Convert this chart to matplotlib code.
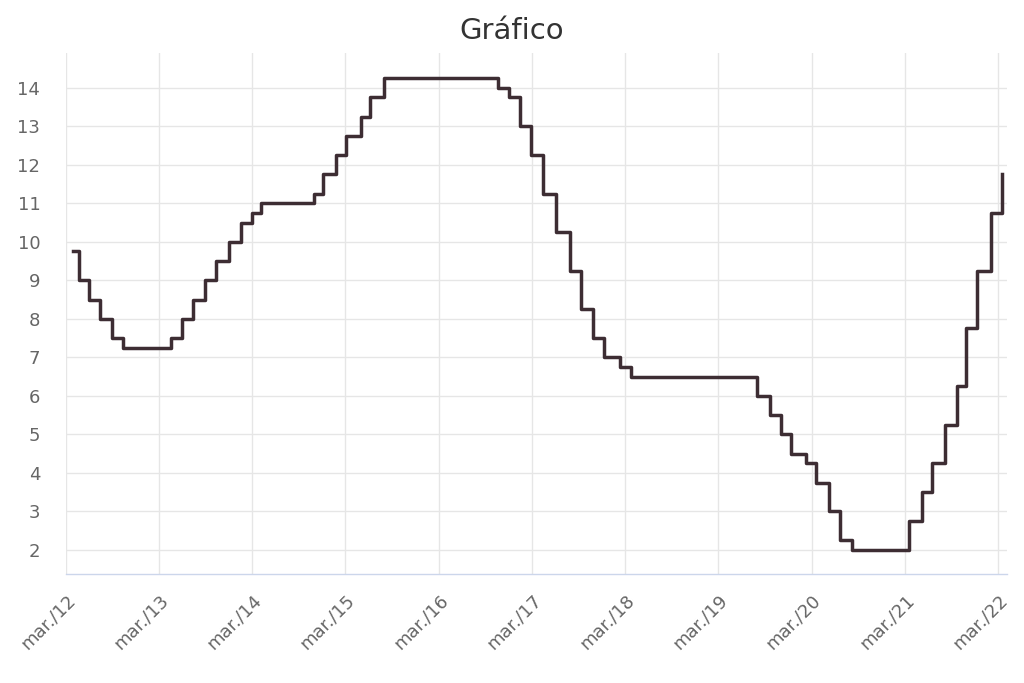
import matplotlib
matplotlib.use("Agg")
import matplotlib.pyplot as plt
import matplotlib.dates as mdates
import numpy as np
from datetime import datetime

dates = [
    "2012-03-30", "2012-04-19", "2012-05-31", "2012-07-12", "2012-08-30", "2012-10-11",
    "2013-04-18", "2013-05-30", "2013-07-11", "2013-08-29", "2013-10-10", "2013-11-28",
    "2014-01-16", "2014-02-27", "2014-04-03", "2014-10-30", "2014-12-04",
    "2015-01-22", "2015-03-05", "2015-04-30", "2015-06-04", "2015-07-30",
    "2016-10-20", "2016-12-01",
    "2017-01-12", "2017-02-23", "2017-04-13", "2017-06-01", "2017-07-27", "2017-09-07",
    "2017-10-26", "2017-12-07",
    "2018-02-08", "2018-03-22",
    "2019-08-01", "2019-09-19", "2019-10-31", "2019-12-12",
    "2020-02-06", "2020-03-19", "2020-05-07", "2020-06-18", "2020-08-06",
    "2021-03-18", "2021-05-06", "2021-06-17", "2021-08-05", "2021-09-23", "2021-10-28",
    "2021-12-09",
    "2022-02-03", "2022-03-18",
]
rates = [
    9.75, 9.00, 8.50, 8.00, 7.50, 7.25,
    7.50, 8.00, 8.50, 9.00, 9.50, 10.00,
    10.50, 10.75, 11.00, 11.25, 11.75,
    12.25, 12.75, 13.25, 13.75, 14.25,
    14.00, 13.75,
    13.00, 12.25, 11.25, 10.25, 9.25, 8.25,
    7.50, 7.00,
    6.75, 6.50,
    6.00, 5.50, 5.00, 4.50,
    4.25, 3.75, 3.00, 2.25, 2.00,
    2.75, 3.50, 4.25, 5.25, 6.25, 7.75,
    9.25,
    10.75, 11.75,
]
tick_years = list(range(2012, 2023))
tick_labels = [f"mar./{y % 100:02d}" for y in tick_years]
y_ticks = list(range(2, 15))

x = [datetime.strptime(d, "%Y-%m-%d") for d in dates]
xt = [datetime(y, 3, 1) for y in tick_years]

fig = plt.figure(figsize=(10.24, 6.83), dpi=100)
ax = fig.add_axes([66/1024, 1-574/683, (1007-66)/1024, (574-53)/683])

ax.step(x, rates, where="post", color="#3d2d33", lw=2.5, zorder=3)

ax.set_xlim(datetime(2012, 3, 1), datetime(2022, 4, 5))
ax.set_ylim(1.377, 14.9)
ax.set_xticks(xt)
ax.set_xticklabels(tick_labels, rotation=45, ha="right", va="top",
                   rotation_mode="anchor", fontsize=13, color="#666666")
ax.set_yticks(y_ticks)
ax.set_yticklabels([str(v) for v in y_ticks], fontsize=13, color="#666666")
ax.tick_params(axis="both", length=0)
ax.tick_params(axis="x", pad=12)
ax.tick_params(axis="y", pad=18.5)

ax.grid(True, color="#e6e6e6", lw=1, zorder=0)
for s in ["top", "right", "left"]:
    ax.spines[s].set_visible(False)
ax.spines["bottom"].set_color("#ccd6eb")
ax.spines["bottom"].set_linewidth(1)

fig.text(512/1024, 1-31/683, "Gráfico", ha="center", va="center",
         fontsize=21, color="#333333")

fig.savefig("out.png", dpi=100)
